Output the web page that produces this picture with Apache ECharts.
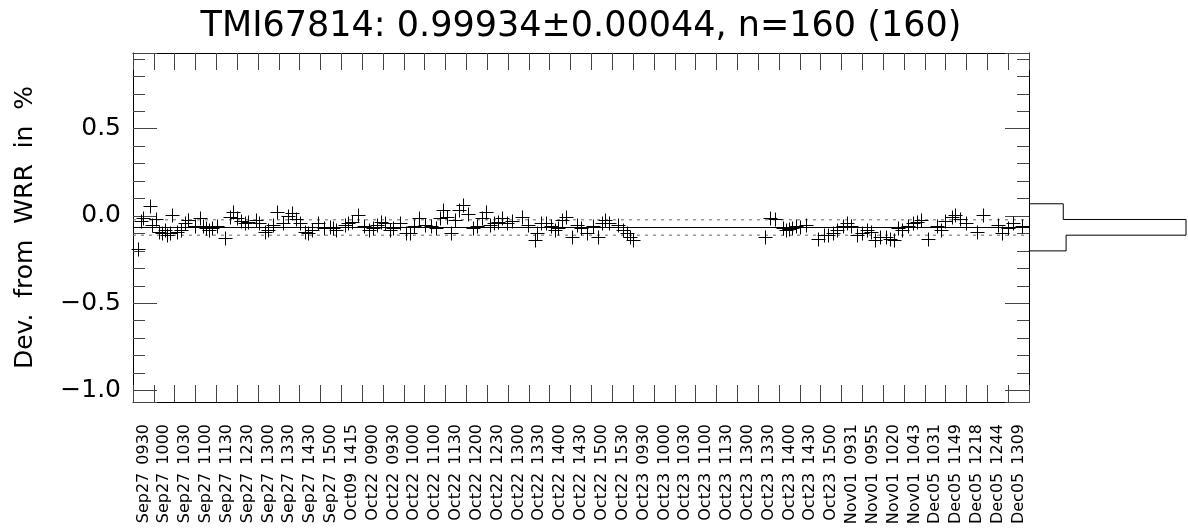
<!DOCTYPE html>
<html>
<head>
<meta charset="utf-8">
<title>TMI67814</title>
<script src="https://cdn.jsdelivr.net/npm/echarts@6.0.0/dist/echarts.min.js"></script>
<style>
  html, body { margin: 0; padding: 0; background: #fff; }
  #chart { width: 1188px; height: 531px; }
</style>
</head>
<body>
<div id="chart"></div>
<script>
// x-axis tick names (one band each)
const categories = [
  'Sep27 0930', 'Sep27 1000', 'Sep27 1030', 'Sep27 1100', 'Sep27 1130', 'Sep27 1230',
  'Sep27 1300', 'Sep27 1330', 'Sep27 1430', 'Sep27 1500', 'Oct09 1415',
  'Oct22 0900', 'Oct22 0930', 'Oct22 1000', 'Oct22 1100', 'Oct22 1130', 'Oct22 1200',
  'Oct22 1230', 'Oct22 1300', 'Oct22 1330', 'Oct22 1400', 'Oct22 1430', 'Oct22 1500',
  'Oct22 1530', 'Oct23 0930', 'Oct23 1000', 'Oct23 1030', 'Oct23 1100', 'Oct23 1130',
  'Oct23 1300', 'Oct23 1330', 'Oct23 1400', 'Oct23 1430', 'Oct23 1500',
  'Nov01 0931', 'Nov01 0955', 'Nov01 1020', 'Nov01 1043',
  'Dec05 1031', 'Dec05 1149', 'Dec05 1218', 'Dec05 1244', 'Dec05 1309'
];

// position of each measurement along the axis, in bands
const pointPos = [
  0.24, 0.38, 0.48, 0.82, 0.91, 1.10, 1.25, 1.39, 1.54, 1.63,
  1.78, 1.87, 2.11, 2.30, 2.50, 2.64, 2.98, 3.22, 3.36, 3.50,
  3.65, 3.79, 4.03, 4.42, 4.66, 4.80, 4.99, 5.18, 5.38, 5.52,
  5.90, 6.05, 6.34, 6.48, 6.72, 6.91, 7.20, 7.44, 7.63, 7.83,
  8.02, 8.26, 8.40, 8.59, 8.88, 9.17, 9.46, 9.60, 9.75, 10.18,
  10.32, 10.51, 10.80, 11.09, 11.33, 11.52, 11.71, 11.91, 12.10, 12.34,
  12.48, 12.82, 13.11, 13.30, 13.49, 13.73, 14.02, 14.31, 14.55, 14.74,
  14.88, 15.07, 15.27, 15.46, 15.65, 15.84, 16.08, 16.32, 16.51, 16.75,
  16.95, 17.14, 17.33, 17.52, 17.71, 17.95, 18.19, 18.68, 18.96, 19.30,
  19.40, 19.59, 19.83, 20.07, 20.26, 20.40, 20.60, 20.79, 21.08, 21.32,
  21.51, 21.80, 22.08, 22.32, 22.52, 22.66, 22.85, 23.28, 23.52, 23.72,
  23.86, 24.00,
  30.34, 30.58, 30.82, 31.21, 31.35, 31.49, 31.64, 31.83, 32.02, 32.31,
  32.89, 33.17, 33.37, 33.61, 33.80, 34.09, 34.28, 34.47, 34.76, 35.00,
  35.24, 35.43, 35.62, 35.86, 36.15, 36.34, 36.53, 36.73, 36.92, 37.21,
  37.45, 37.64, 37.84, 38.17, 38.60, 38.79, 38.98, 39.32, 39.46, 39.70,
  39.99, 40.52, 40.81, 41.53, 41.72, 42.01, 42.25, 42.68
];

// deviation from WRR in %
const pointDev = [
  -0.190, -0.030, -0.013, 0.057, -0.050, -0.020, -0.090, -0.100, -0.080, -0.110,
  -0.100, 0.006, -0.090, -0.080, -0.040, -0.023, -0.060, -0.013, -0.060, -0.070,
  -0.080, -0.070, -0.060, -0.127, -0.004, 0.025, -0.010, -0.030, -0.042, -0.035,
  -0.023, -0.040, -0.090, -0.080, -0.050, 0.025, -0.042, 0.000, 0.015, -0.020,
  -0.040, -0.090, -0.100, -0.080, -0.042, -0.070, -0.065, -0.070, -0.080, -0.050,
  -0.042, -0.035, 0.006, -0.060, -0.080, -0.070, -0.050, -0.032, -0.040, -0.080,
  -0.070, -0.040, -0.100, -0.100, -0.060, -0.013, -0.050, -0.060, -0.070, -0.013,
  0.034, -0.004, -0.100, -0.023, 0.034, 0.063, 0.010, -0.070, -0.060, -0.013,
  0.025, -0.050, -0.042, -0.035, -0.013, -0.040, -0.030, -0.004, -0.050, -0.138,
  -0.100, -0.042, -0.040, -0.060, -0.080, -0.070, -0.023, -0.004, -0.120, -0.050,
  -0.070, -0.100, -0.060, -0.120, -0.040, -0.023, -0.040, -0.050, -0.080, -0.100,
  -0.120, -0.140,
  -0.119, -0.013, -0.020, -0.070, -0.080, -0.075, -0.070, -0.060, -0.065, -0.050,
  -0.130, -0.110, -0.110, -0.100, -0.080, -0.060, -0.040, -0.060, -0.110, -0.100,
  -0.080, -0.090, -0.138, -0.120, -0.120, -0.130, -0.140, -0.070, -0.080, -0.060,
  -0.042, -0.035, -0.023, -0.130, -0.060, -0.080, -0.030, -0.004, 0.006, -0.020,
  -0.040, -0.090, 0.006, -0.050, -0.100, -0.070, -0.040, -0.060
];

// mean and sigma of the deviation, in %
const meanDev = -0.066;
const sigmaDev = 0.044;

// side histogram: bin edges (top to bottom) and counts
const histEdges = [0.070, -0.020, -0.110, -0.200];
const histCounts = [24, 110, 26];

const font = 'DejaVu Sans';
const gridLeft = 133, gridTop = 53, gridWidth = 896, gridHeight = 349;
const yMin = meanDev - 1, yMax = meanDev + 1;

const points = pointPos.map((p, i) => [p, pointDev[i]]);

// step outline of the histogram
const histLine = [[0, histEdges[0]]];
histCounts.forEach((c, i) => {
  histLine.push([c, histEdges[i]]);
  histLine.push([c, histEdges[i + 1]]);
});
histLine.push([0, histEdges[histEdges.length - 1]]);

const fmtY = v => v.toFixed(1).replace('-', '\u2212');

const frameLine = { show: true, onZero: false, lineStyle: { color: '#000', width: 1 } };
const xTick = { show: true, inside: true, length: 17, interval: 0, lineStyle: { color: '#444', width: 1 } };
const yTick = { show: true, inside: true, length: 24, lineStyle: { color: '#444', width: 1 } };
const yMinor = { show: true, splitNumber: 5, length: 12, lineStyle: { color: '#444', width: 1 } };

function levelLine(value, type) {
  return {
    type: 'line',
    xAxisIndex: 2,
    yAxisIndex: 0,
    data: [[0, value], [categories.length, value]],
    symbol: 'none',
    silent: true,
    z: 1,
    lineStyle: { color: type === 'solid' ? '#000' : '#666', width: 1, type: type === 'solid' ? 'solid' : [3, 5] }
  };
}

const chart = echarts.init(document.getElementById('chart'));
chart.setOption({
  animation: false,
  backgroundColor: '#fff',
  graphic: [{
    type: 'text',
    x: gridLeft + gridWidth / 2,
    y: 27,
    style: {
      text: 'TMI67814: 0.99934\u00b10.00044, n=160 (160)',
      font: '35px "' + font + '"',
      fill: '#000',
      textAlign: 'center',
      textVerticalAlign: 'middle'
    }
  }],
  grid: [
    { left: gridLeft, top: gridTop, width: gridWidth, height: gridHeight, outerBoundsMode: 'none', containLabel: false },
    { left: gridLeft + gridWidth, top: gridTop, width: 157, height: gridHeight, outerBoundsMode: 'none', containLabel: false }
  ],
  xAxis: [
    {
      type: 'category', gridIndex: 0, position: 'bottom', data: categories,
      axisLine: frameLine, axisTick: xTick, splitLine: { show: false },
      axisLabel: {
        interval: 0, rotate: 90, margin: 22, fontSize: 16, fontFamily: font, color: '#000',
        formatter: s => s.replace(' ', '\u2002')
      }
    },
    {
      type: 'category', gridIndex: 0, position: 'top', data: categories,
      axisLine: frameLine, axisTick: xTick, axisLabel: { show: false }, splitLine: { show: false }
    },
    { type: 'value', gridIndex: 0, min: 0, max: categories.length, show: false },
    { type: 'value', gridIndex: 1, min: 0, max: Math.max(...histCounts), show: false }
  ],
  yAxis: [
    {
      type: 'value', gridIndex: 0, position: 'left', min: yMin, max: yMax, splitNumber: 4,
      axisLine: frameLine, axisTick: yTick, minorTick: yMinor, splitLine: { show: false },
      axisLabel: {
        showMinLabel: false, showMaxLabel: false, margin: 12,
        fontSize: 25, fontFamily: font, color: '#000', formatter: fmtY
      },
      name: 'Dev.  from  WRR  in  %',
      nameLocation: 'middle', nameRotate: 90, nameGap: 95,
      nameTextStyle: { fontSize: 25, fontFamily: font, color: '#000' }
    },
    {
      type: 'value', gridIndex: 0, position: 'right', min: yMin, max: yMax, splitNumber: 4,
      axisLine: frameLine, axisTick: yTick, minorTick: yMinor, splitLine: { show: false },
      axisLabel: { show: false }
    },
    { type: 'value', gridIndex: 1, min: yMin, max: yMax, show: false }
  ],
  series: [
    levelLine(meanDev, 'solid'),
    levelLine(meanDev + sigmaDev, 'dotted'),
    levelLine(meanDev - sigmaDev, 'dotted'),
    {
      type: 'custom',
      xAxisIndex: 2,
      yAxisIndex: 0,
      data: points,
      z: 2,
      renderItem: function (params, api) {
        const p = api.coord([api.value(0), api.value(1)]);
        // snap to the pixel grid so the crosses stay crisp
        const x = Math.round(p[0]) + 0.5;
        const y = Math.round(p[1]) + 0.5;
        const s = 7;
        const style = { stroke: '#000', lineWidth: 1 };
        return {
          type: 'group',
          children: [
            { type: 'line', shape: { x1: x - s, y1: y, x2: x + s, y2: y }, style: style },
            { type: 'line', shape: { x1: x, y1: y - s, x2: x, y2: y + s }, style: style }
          ]
        };
      }
    },
    {
      type: 'line',
      xAxisIndex: 3,
      yAxisIndex: 2,
      data: histLine,
      symbol: 'none',
      clip: false,
      silent: true,
      lineStyle: { color: '#000', width: 1 }
    }
  ]
});
</script>
</body>
</html>
